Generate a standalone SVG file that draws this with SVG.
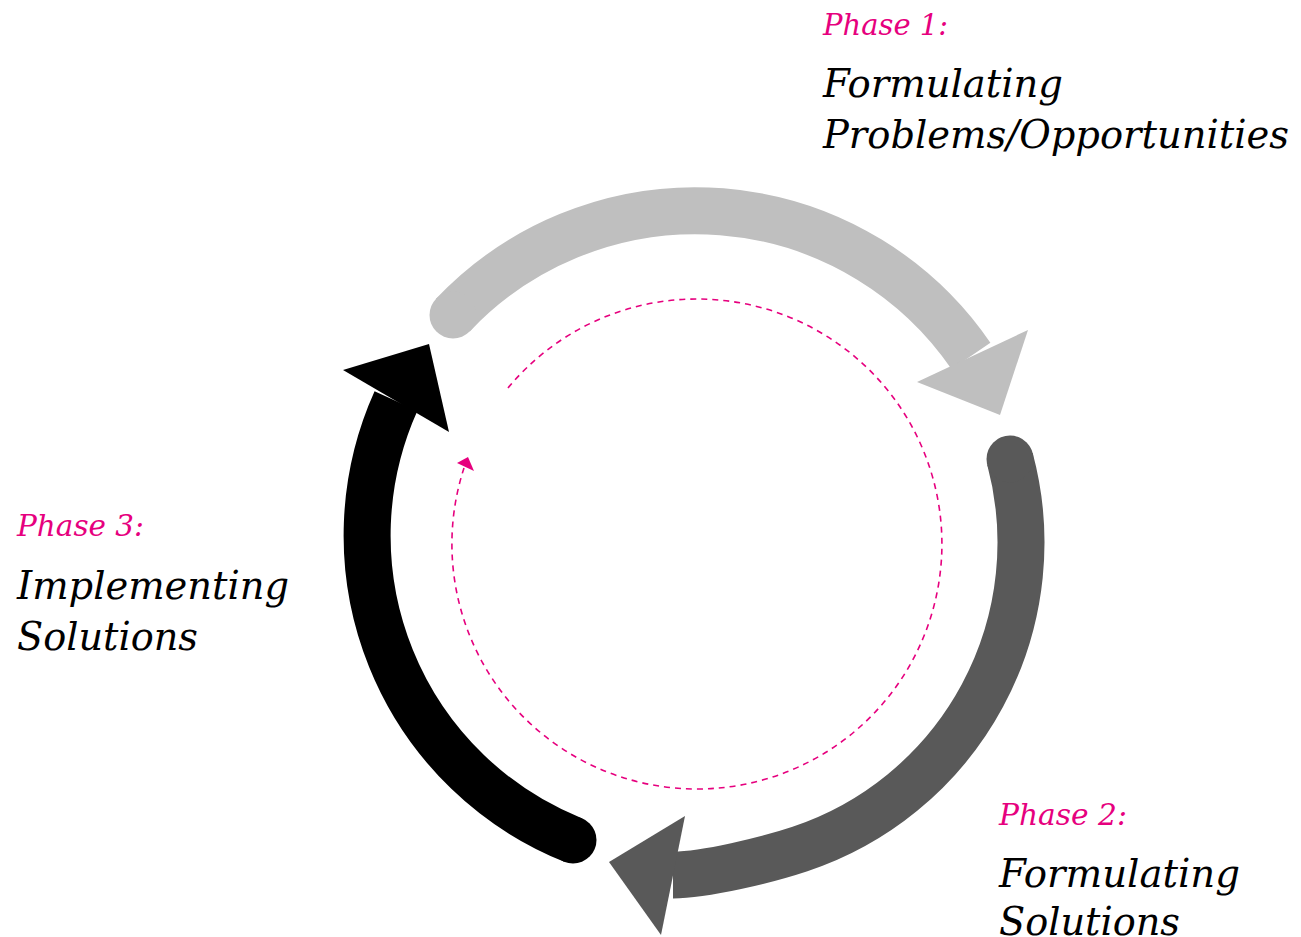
<svg xmlns="http://www.w3.org/2000/svg" width="1301" height="937" viewBox="0 0 1301 937">
  <style>
    .phase { font-family: "DejaVu Serif", "Liberation Serif", serif; font-style: italic; font-size: 30px; fill: #e6007e; }
    .title { font-family: "DejaVu Serif", "Liberation Serif", serif; font-style: italic; font-size: 40px; fill: #000; }
    .shaft { fill: none; stroke-width: 47; stroke-linecap: butt; }
    .dash { fill: none; stroke: #e6007e; stroke-width: 1.6; stroke-dasharray: 6 5; }
  </style>
  <rect width="1301" height="937" fill="#fff"/>

  <g id="connectors">
    <!-- Phase 1 arrow (light gray) -->
    <g id="arrow1">
      <path class="shaft" stroke="#bfbfbf" d="M453,315 A334,334 0 0 1 971,356"/>
      <circle cx="453" cy="315" r="23.5" fill="#bfbfbf"/>
      <polygon points="917,382 1028,330 1000,415" fill="#bfbfbf"/>
    </g>
    <!-- Phase 2 arrow (dark gray) -->
    <g id="arrow2">
      <path class="shaft" stroke="#595959" d="M1010,459 A323,323 0 0 1 800,849 C767,860 705,875 673,875"/>
      <circle cx="1010" cy="459" r="23.5" fill="#595959"/>
      <polygon points="685,816 661,935 609,862" fill="#595959"/>
    </g>
    <!-- Phase 3 arrow (black) -->
    <g id="arrow3">
      <path class="shaft" stroke="#000" d="M573,840 A328,328 0 0 1 396,401"/>
      <circle cx="573" cy="840" r="23.5" fill="#000"/>
      <polygon points="343,370 449,432 429,344" fill="#000"/>
    </g>
    <!-- inner dashed cycle -->
    <g id="inner-cycle">
      <path class="dash" d="M508,388 A245,245 0 1 1 464,468"/>
      <polygon points="457,463 474,471 468,457" fill="#e6007e"/>
    </g>
  </g>

  <g id="phase1">
    <text class="phase" x="823" y="35" textLength="125" lengthAdjust="spacingAndGlyphs">Phase 1:</text>
    <text class="title" x="823" y="97" textLength="240" lengthAdjust="spacingAndGlyphs">Formulating</text>
    <text class="title" x="823" y="148" textLength="466" lengthAdjust="spacingAndGlyphs">Problems/Opportunities</text>
  </g>

  <g id="phase2">
    <text class="phase" x="999" y="825" textLength="128" lengthAdjust="spacingAndGlyphs">Phase 2:</text>
    <text class="title" x="999" y="887" textLength="241" lengthAdjust="spacingAndGlyphs">Formulating</text>
    <text class="title" x="999" y="935" textLength="181" lengthAdjust="spacingAndGlyphs">Solutions</text>
  </g>

  <g id="phase3">
    <text class="phase" x="17" y="536" textLength="127" lengthAdjust="spacingAndGlyphs">Phase 3:</text>
    <text class="title" x="17" y="599" textLength="272" lengthAdjust="spacingAndGlyphs">Implementing</text>
    <text class="title" x="17" y="650" textLength="181" lengthAdjust="spacingAndGlyphs">Solutions</text>
  </g>
</svg>
